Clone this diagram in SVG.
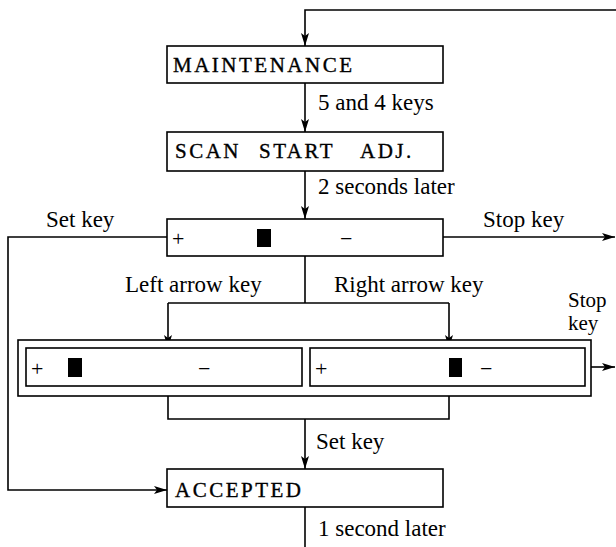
<svg xmlns="http://www.w3.org/2000/svg" width="616" height="547" viewBox="0 0 616 547">
<defs>
<marker id="ah" markerWidth="14" markerHeight="10" refX="13" refY="5" orient="auto" markerUnits="userSpaceOnUse">
<path d="M0,1 L13,5 L0,9 L3,5 z" fill="#000"/>
</marker>
<style>
.box{fill:#fff;stroke:#000;stroke-width:1.6}
.ln{fill:none;stroke:#000;stroke-width:1.6}
.lbl{font-family:"Liberation Serif","Times New Roman",serif;font-size:23px;fill:#000}
.cap{font-family:"Liberation Serif","Times New Roman",serif;font-size:21px;letter-spacing:2.5px;fill:#000;stroke:#000;stroke-width:0.35}
.sym{font-family:"Liberation Serif","Times New Roman",serif;font-size:22px;fill:#000}
.blk{fill:#000}
</style>
</defs>
<g id="connectors">
<path class="ln" d="M616,10 H305 V46" marker-end="url(#ah)"/>
<path class="ln" d="M305,83 V132" marker-end="url(#ah)"/>
<path class="ln" d="M305,171 V219" marker-end="url(#ah)"/>
<path class="ln" d="M167,237 H8 V490 H167" marker-end="url(#ah)"/>
<path class="ln" d="M443,237 H615" marker-end="url(#ah)"/>
<path class="ln" d="M305,256 V303"/>
<path class="ln" d="M168,303 H449"/>
<path class="ln" d="M168,303 V348" marker-end="url(#ah)"/>
<path class="ln" d="M449,303 V348" marker-end="url(#ah)"/>
<path class="ln" d="M591,367 H615" marker-end="url(#ah)"/>
<path class="ln" d="M168,386 V419 H449 V386"/>
<path class="ln" d="M305,419 V469" marker-end="url(#ah)"/>
<path class="ln" d="M305,507 V547"/>
</g>
<g id="labels">
<text class="lbl" x="318" y="110">5 and 4 keys</text>
<text class="lbl" x="318" y="194">2 seconds later</text>
<text class="lbl" x="46" y="227">Set key</text>
<text class="lbl" x="483" y="227">Stop key</text>
<text class="lbl" x="125" y="292">Left arrow key</text>
<text class="lbl" x="334" y="292">Right arrow key</text>
<text class="lbl" x="568" y="307" style="font-size:21px">Stop</text>
<text class="lbl" x="568" y="330" style="font-size:21px">key</text>
<text class="lbl" x="316" y="449">Set key</text>
<text class="lbl" x="318" y="536">1 second later</text>
</g>
<g id="maintenance">
<rect class="box" x="167" y="46" width="276" height="37"/>
<text class="cap" x="173" y="72">MAINTENANCE</text>
</g>
<g id="scan-start-adj">
<rect class="box" x="167" y="132" width="276" height="39"/>
<text class="cap" y="158"><tspan x="175">SCAN</tspan><tspan x="259">START</tspan><tspan x="360">ADJ.</tspan></text>
</g>
<g id="adjust-center">
<rect class="box" x="167" y="219" width="276" height="37"/>
<text class="sym" x="172" y="246">+</text>
<rect class="blk" x="257" y="229" width="14" height="18"/>
<text class="sym" x="340" y="246">−</text>
</g>
<g id="adjust-group">
<rect class="box" x="18" y="340" width="573" height="56"/>
<g id="adjust-left">
<rect class="box" x="26" y="348" width="276" height="38"/>
<text class="sym" x="31" y="376">+</text>
<rect class="blk" x="68" y="358" width="14" height="19"/>
<text class="sym" x="198" y="376">−</text>
</g>
<g id="adjust-right">
<rect class="box" x="310" y="348" width="275" height="38"/>
<text class="sym" x="315" y="376">+</text>
<rect class="blk" x="449" y="358" width="13" height="19"/>
<text class="sym" x="480" y="376">−</text>
</g>
</g>
<g id="accepted">
<rect class="box" x="167" y="469" width="276" height="38"/>
<text class="cap" x="175" y="497">ACCEPTED</text>
</g>
</svg>
